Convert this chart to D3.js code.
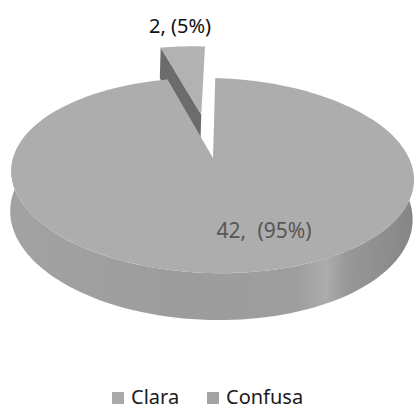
<!DOCTYPE html>
<meta charset="utf-8">
<head>
  <title>3D pie</title>
</head>

<style>
body { margin: 0; background: white; }
text { font-family: "Noto Sans", "Open Sans", sans-serif; }
</style>

<body>
  <svg width="416" height="410"></svg>

  <script src="https://cdnjs.cloudflare.com/ajax/libs/d3/7.8.5/d3.min.js"></script>
  <script>

const categories = ["Clara", "Confusa"];
const values = [42, 2];
const legendColors = ["#a9a9a9", "#a3a3a3"];

const total = d3.sum(values);
const data = categories.map((c, i) => ({ name: c, value: values[i] }));

// perspective disk: u right, v toward viewer, both in [-1, 1]
const cx = 213, y0 = 158;
const A = 94.4, B = -0.1795, C = 198, D = 38.5;

function proj(theta, r, z, off) {
  const u = r * Math.sin(theta) + off[0];
  const v = -r * Math.cos(theta) + off[1];
  const den = 1 + B * v;
  return [cx + C * u / den, y0 + A * v / den + z * D / den];
}

const pie = d3.pie().sort(null).value(d => d.value);
const arcs = pie(data);

const svg = d3.select("svg");
const defs = svg.append("defs");

const grad = defs.append("linearGradient")
  .attr("id", "side")
  .attr("x1", "0").attr("x2", "1").attr("y1", "0").attr("y2", "0");
[[0, "#a2a2a2"], [0.45, "#9c9c9c"], [0.72, "#9e9e9e"], [0.79, "#acacac"],
 [0.84, "#989898"], [1, "#868686"]].forEach(s =>
  grad.append("stop").attr("offset", s[0]).attr("stop-color", s[1]));

const line = d3.line();

function rim(a0, a1, z, off, n) {
  const pts = [];
  for (let i = 0; i <= n; i++) {
    pts.push(proj(a0 + (a1 - a0) * i / n, 1, z, off));
  }
  return pts;
}

const g = svg.append("g").attr("transform", "rotate(1.6," + cx + "," + y0 + ")");

// small slice, pulled out backwards
const small = arcs[1];
const mid = (small.startAngle + small.endAngle) / 2;
const k = 0.5;
const offS = [k * Math.sin(mid), -k * Math.cos(mid)];

// cut face at the start angle
g.append("path")
  .attr("d", line([
    proj(small.startAngle, 0, 0, offS),
    proj(small.startAngle, 1, 0, offS),
    proj(small.startAngle, 1, 1, offS),
    proj(small.startAngle, 0, 1, offS)
  ]) + "Z")
  .attr("fill", "#6c6c6c");

g.append("path")
  .attr("d", line([proj(0, 0, 0, offS)].concat(rim(small.startAngle, small.endAngle, 0, offS, 20))) + "Z")
  .attr("fill", "#b2b2b2");

// big slice
const big = arcs[0];
const off0 = [0, 0];
const sideTop = rim(Math.PI / 3, Math.PI * 5 / 3, 0, off0, 120);
const sideBot = rim(Math.PI * 5 / 3, Math.PI / 3, 1, off0, 120);
g.append("path")
  .attr("d", line(sideTop.concat(sideBot)) + "Z")
  .attr("fill", "url(#side)");

g.append("path")
  .attr("d", line([proj(0, 0, 0, off0)].concat(rim(big.startAngle, big.endAngle, 0, off0, 200))) + "Z")
  .attr("fill", "#adadad");

// labels
const fmt = d => d.value + ", (" + Math.round(d.value / total * 100) + "%)";

svg.append("text")
  .attr("x", 180).attr("y", 33)
  .attr("text-anchor", "middle")
  .attr("font-size", 20)
  .attr("fill", "#111")
  .text(fmt(small.data));

svg.append("text")
  .attr("x", 264).attr("y", 238)
  .attr("text-anchor", "middle")
  .attr("font-size", 21)
  .attr("fill", "#575757")
  .attr("word-spacing", 6)
  .text(fmt(big.data));

// legend
const lx = d3.scalePoint().domain(categories).range([112, 207]);
const leg = svg.append("g").selectAll("g")
  .data(categories)
  .enter()
  .append("g")
  .attr("transform", d => "translate(" + lx(d) + ",392)");

leg.append("rect")
  .attr("width", 12).attr("height", 12)
  .attr("fill", (d, i) => legendColors[i]);

leg.append("text")
  .attr("x", 19).attr("y", 12)
  .attr("font-size", 20)
  .attr("fill", "#1a1a1a")
  .text(d => d);

  </script>
</body>
</html>
